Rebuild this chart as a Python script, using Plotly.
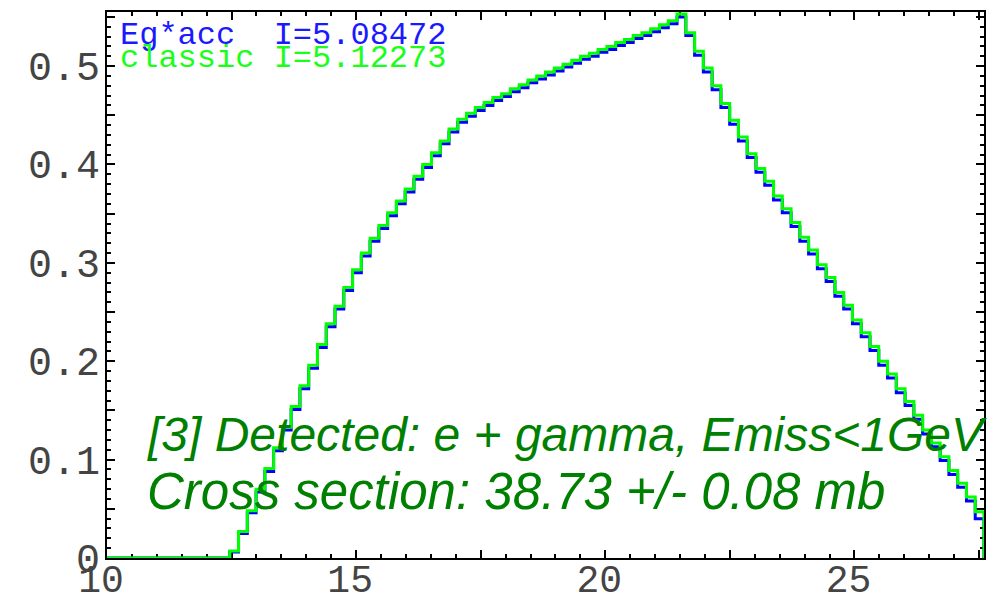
import numpy as np
import plotly.graph_objects as go

# ---------------- data ----------------
x_min, x_max, n_bins = 10.0, 27.6, 100

green_vals = [
    0, 0, 0, 0, 0, 0, 0, 0, 0, 0, 0, 0, 0, 0,
    0.007,
    0.027, 0.048, 0.070, 0.091, 0.112, 0.133, 0.154, 0.175, 0.196, 0.217, 0.238,
    0.256, 0.275, 0.293, 0.310, 0.325, 0.338, 0.351, 0.363, 0.375, 0.388, 0.400, 0.412, 0.424, 0.436,
    0.446, 0.452, 0.458, 0.463, 0.468, 0.472, 0.477, 0.481, 0.486, 0.490, 0.494, 0.498, 0.502,
    0.506, 0.510, 0.513, 0.517, 0.520, 0.524, 0.527, 0.531, 0.534, 0.538, 0.542, 0.546, 0.553,
    0.534, 0.515, 0.498, 0.480, 0.462, 0.445, 0.428,
    0.411, 0.396, 0.383, 0.368, 0.355, 0.341, 0.326, 0.313, 0.298, 0.285, 0.270, 0.257, 0.242,
    0.229, 0.215, 0.200, 0.187, 0.172, 0.159, 0.145, 0.130, 0.117, 0.103, 0.089, 0.076, 0.062, 0.047,
]

blue_vals = [
    0, 0, 0, 0, 0, 0, 0, 0, 0, 0, 0, 0, 0, 0,
    0.006,
    0.025, 0.046, 0.067, 0.088, 0.109, 0.130, 0.151, 0.172, 0.193, 0.214, 0.235,
    0.253, 0.272, 0.290, 0.307, 0.322, 0.335, 0.348, 0.360, 0.372, 0.385, 0.397, 0.409, 0.421, 0.433,
    0.443, 0.449, 0.455, 0.460, 0.465, 0.469, 0.474, 0.478, 0.483, 0.487, 0.491, 0.495, 0.499,
    0.503, 0.507, 0.510, 0.514, 0.517, 0.521, 0.524, 0.528, 0.531, 0.535, 0.539, 0.543, 0.550,
    0.531, 0.511, 0.494, 0.476, 0.458, 0.441, 0.424,
    0.407, 0.392, 0.379, 0.364, 0.351, 0.337, 0.322, 0.309, 0.294, 0.281, 0.266, 0.253, 0.238,
    0.225, 0.211, 0.196, 0.183, 0.168, 0.155, 0.141, 0.126, 0.113, 0.099, 0.085, 0.072, 0.058, 0.040,
]

x_tickvals = [10, 12.5, 15, 17.5, 20, 22.5, 25, 27.5]
x_ticktext = ["10", "", "15", "", "20", "", "25", ""]
y_tickvals = [0, 0.05, 0.1, 0.15, 0.2, 0.25, 0.3, 0.35, 0.4, 0.45, 0.5, 0.55]
y_ticktext = ["0", "", "0.1", "", "0.2", "", "0.3", "", "0.4", "", "0.5", ""]

legend_lines = ["Eg*acc  I=5.08472", "classic I=5.12273"]
title_lines = ["[3] Detected: e + gamma, Emiss<1GeV", "Cross section: 38.73 +/- 0.08 mb"]

# ---------------- figure ----------------
edges = np.linspace(x_min, x_max, n_bins + 1)


def step_xy(vals):
    xs = list(edges) + [edges[-1]]
    ys = list(vals) + [vals[-1], 0]
    return xs, ys


fig = go.Figure()
bx, by = step_xy(blue_vals)
fig.add_trace(go.Scatter(x=bx, y=by, mode="lines", line=dict(color="#0000ff", width=3, shape="hv"),
                         name="Eg*acc"))
gx, gy = step_xy(green_vals)
fig.add_trace(go.Scatter(x=gx, y=gy, mode="lines", line=dict(color="#00ff00", width=3, shape="hv"),
                         name="classic"))

axis_common = dict(
    showgrid=False, zeroline=False, showline=True, linecolor="black", linewidth=2,
    mirror="allticks", ticks="inside", ticklen=8, tickwidth=2, tickcolor="black",
    layer="below traces", automargin=False,
)

fig.update_xaxes(range=[x_min, x_max], tickmode="array", tickvals=x_tickvals, ticktext=x_ticktext,
                 tickfont=dict(family="Liberation Mono", size=38, color="#444444"),
                 minor=dict(tick0=10, dtick=0.5, ticks="inside", ticklen=4, tickwidth=2,
                            tickcolor="black", showgrid=False),
                 ticklabelshift=-6, ticklabelstandoff=-14, **axis_common)
fig.update_yaxes(range=[0, 0.555], tickmode="array", tickvals=y_tickvals, ticktext=y_ticktext,
                 tickfont=dict(family="Liberation Mono", size=40, color="#444444"),
                 minor=dict(tick0=0, dtick=0.01, ticks="inside", ticklen=4, tickwidth=2,
                            tickcolor="black", showgrid=False),
                 ticklabelstandoff=-3, **axis_common)

annotations = [
    dict(text=legend_lines[0], x=0.0125, y=0.957, font=dict(family="Liberation Mono", size=32, color="#1a1aff")),
    dict(text=legend_lines[1], x=0.0125, y=0.9145, font=dict(family="Liberation Mono", size=32, color="#1aff1a")),
    dict(text=title_lines[0], x=0.0433, y=0.2253,
         font=dict(family="Liberation Sans", size=48, color="#008000", style="italic")),
    dict(text=title_lines[1], x=0.0433, y=0.1209,
         font=dict(family="Liberation Sans", size=51, color="#008000", style="italic")),
]
for a in annotations:
    fig.add_annotation(xref="paper", yref="paper", xanchor="left", yanchor="middle",
                       showarrow=False, **a)

fig.update_layout(
    width=1001, height=603,
    margin=dict(l=107, r=17, t=12, b=45),
    paper_bgcolor="white", plot_bgcolor="white",
    showlegend=False,
)

fig.write_html("out.html")
